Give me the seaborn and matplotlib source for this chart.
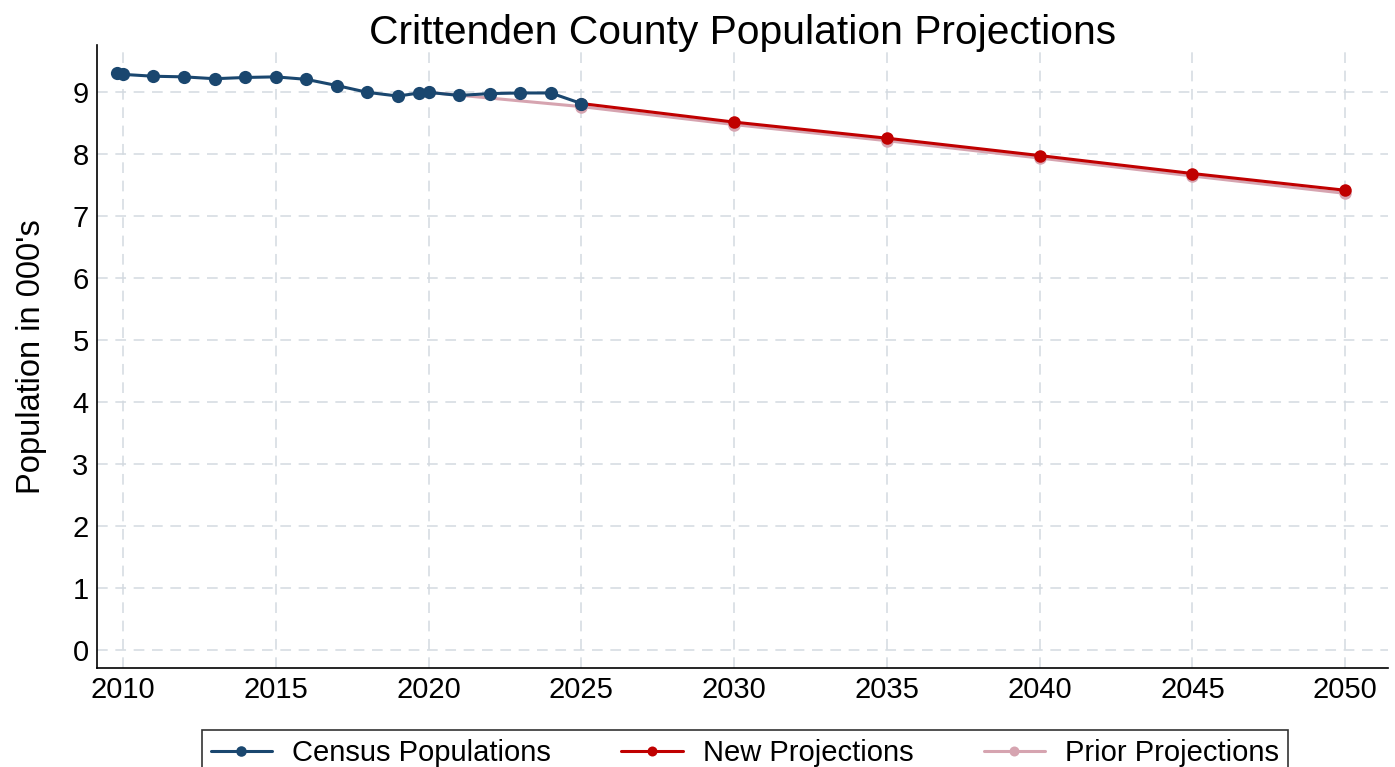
import pandas as pd
import numpy as np
import matplotlib
matplotlib.use("Agg")
import matplotlib.pyplot as plt
import seaborn as sns

# census estimates (two points for 2010 and 2020: April census + July estimate)
census_years = [2009.8, 2010, 2011, 2012, 2013, 2014, 2015, 2016, 2017, 2018, 2019,
                2019.7, 2020, 2021, 2022, 2023, 2024, 2025]
census_pop = [9.31, 9.29, 9.26, 9.25, 9.22, 9.24, 9.25, 9.21, 9.11, 9.00, 8.94,
              8.99, 9.00, 8.95, 8.98, 8.99, 8.99, 8.82]

new_years = [2025, 2030, 2035, 2040, 2045, 2050]
new_pop = [8.82, 8.52, 8.26, 7.98, 7.69, 7.42]

prior_years = [2020, 2025, 2030, 2035, 2040, 2045, 2050]
prior_pop = [9.00, 8.77, 8.48, 8.22, 7.94, 7.65, 7.37]

x_ticks = [2010, 2015, 2020, 2025, 2030, 2035, 2040, 2045, 2050]
y_ticks = list(range(0, 10))

sns.set_theme(style="white")
plt.rcParams['font.family'] = ['Liberation Sans', 'DejaVu Sans']
plt.rcParams['text.color'] = 'black'
plt.rcParams['axes.labelcolor'] = 'black'
plt.rcParams['xtick.color'] = 'black'
plt.rcParams['ytick.color'] = 'black'

fig = plt.figure(figsize=(13.95, 7.67), dpi=100)
ax = fig.add_axes([0.0695, 0.129, 0.9255, 0.812])

df_census = pd.DataFrame({'year': census_years, 'pop': census_pop})
df_new = pd.DataFrame({'year': new_years, 'pop': new_pop})
df_prior = pd.DataFrame({'year': prior_years, 'pop': prior_pop})

# prior drawn first so the newer series sit on top
sns.lineplot(data=df_prior, x='year', y='pop', ax=ax, color='#d6a4b0', linewidth=2.2,
             marker='o', markersize=9, markeredgewidth=0, label='Prior Projections', zorder=3)
sns.lineplot(data=df_new, x='year', y='pop', ax=ax, color='#c00000', linewidth=2.2,
             marker='o', markersize=9, markeredgewidth=0, label='New Projections', zorder=4)
sns.lineplot(data=df_census, x='year', y='pop', ax=ax, color='#1a476f', linewidth=2.2,
             marker='o', markersize=9.5, markeredgewidth=0, label='Census Populations', zorder=5)

ax.set_xlim(2009.15, 2051.4)
ax.set_ylim(-0.29, 9.76)
ax.set_xticks(x_ticks)
ax.set_yticks(y_ticks)
ax.tick_params(axis='both', labelsize=21, length=0, pad=6)
ax.grid(True, color='#d3dae0', linestyle=(0, (7, 5)), linewidth=1.1)
ax.set_axisbelow(True)

for side in ['top', 'right']:
    ax.spines[side].set_visible(False)
for side in ['left', 'bottom']:
    ax.spines[side].set_color('black')
    ax.spines[side].set_linewidth(1.2)

ax.set_xlabel('')
ax.set_ylabel("Population in 000's", fontsize=23.5, labelpad=18)
ax.set_title('Crittenden County Population Projections', fontsize=29.3, pad=1)

handles, labels = ax.get_legend_handles_labels()
order = [labels.index(l) for l in ['Census Populations', 'New Projections', 'Prior Projections']]
leg = ax.legend([handles[i] for i in order], [labels[i] for i in order],
                loc='upper center', bbox_to_anchor=(0.502, -0.076), ncol=3, fontsize=21,
                frameon=True, fancybox=False, edgecolor='black', columnspacing=2.4,
                handlelength=2.1, handletextpad=0.7, markerscale=0.8, borderpad=0.3)
leg.get_frame().set_linewidth(1.2)

plt.savefig('out.png', dpi=100)
